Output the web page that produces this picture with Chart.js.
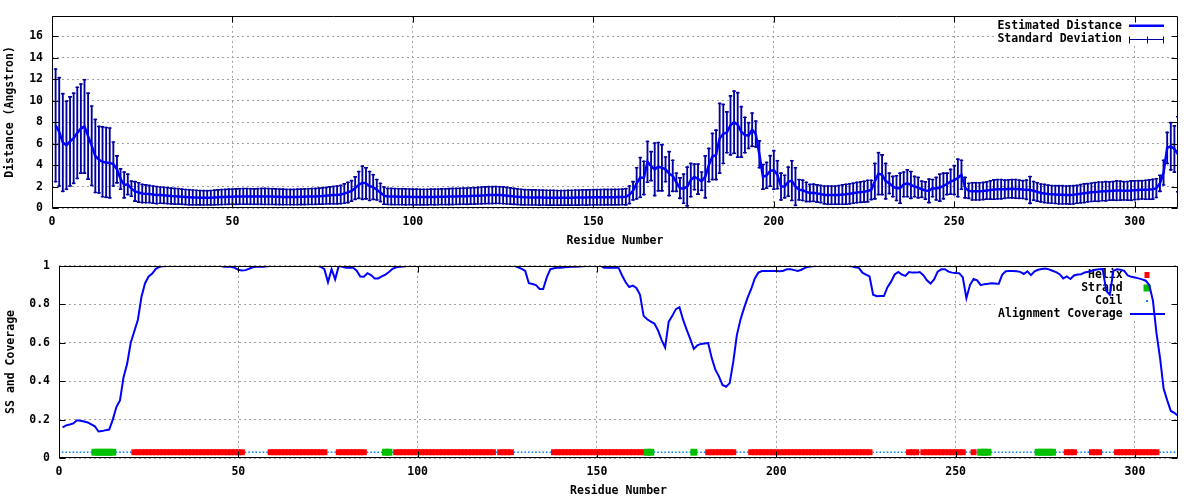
<!DOCTYPE html>
<html><head><meta charset="utf-8">
<script src="https://cdn.jsdelivr.net/npm/chart.js@4.4.1/dist/chart.umd.min.js"></script>
<style>
html,body{margin:0;padding:0;background:#fff;}
#wrap{position:relative;width:1200px;height:500px;background:#fff;}
.c{position:absolute;left:0;width:1200px;height:250px;}
</style></head><body>
<div id="wrap">
<div class="c" style="top:0"><canvas id="top"></canvas></div>
<div class="c" style="top:250px"><canvas id="bot"></canvas></div>
</div>
<script>
// ---- data (residue i+1) ----
const distance = [
7.7,7.1,6.1,5.85,6.2,6.5,7.0,7.4,7.6,6.7,
5.8,4.85,4.5,4.3,4.25,4.2,4.1,3.6,2.7,2.15,
2.2,1.8,1.55,1.45,1.35,1.32,1.3,1.25,1.2,1.2,
1.18,1.15,1.12,1.1,1.08,1.05,1.02,1.0,0.98,0.97,
0.96,0.95,0.95,0.96,0.98,1.0,1.02,1.03,1.05,1.05,
1.06,1.07,1.08,1.08,1.07,1.06,1.07,1.08,1.08,1.07,
1.06,1.05,1.04,1.03,1.02,1.02,1.02,1.03,1.04,1.05,
1.06,1.07,1.08,1.1,1.12,1.15,1.18,1.2,1.22,1.25,
1.35,1.45,1.6,1.85,2.15,2.35,2.3,2.05,1.95,1.7,
1.45,1.15,1.08,1.07,1.06,1.05,1.05,1.04,1.04,1.03,
1.03,1.02,1.02,1.02,1.03,1.03,1.04,1.05,1.05,1.06,
1.07,1.08,1.09,1.1,1.1,1.12,1.13,1.15,1.17,1.18,
1.2,1.2,1.21,1.2,1.18,1.15,1.12,1.08,1.05,1.02,
1.0,0.99,0.98,0.98,0.97,0.97,0.96,0.96,0.96,0.95,
0.95,0.95,0.96,0.96,0.97,0.97,0.98,0.98,0.99,1.0,
1.0,1.0,1.01,1.01,1.01,1.01,1.02,1.03,1.05,1.23,
1.6,2.3,2.85,2.8,4.3,3.9,3.6,3.85,3.75,3.6,
3.2,3.0,2.4,1.85,1.8,2.0,2.6,2.9,2.7,2.5,
2.9,4.0,4.8,4.95,6.5,6.9,7.05,7.7,8.0,7.75,
7.1,6.8,6.75,7.3,6.9,5.0,2.9,3.05,3.45,3.55,
3.1,2.0,2.0,2.45,2.55,2.0,1.7,1.65,1.5,1.4,
1.42,1.35,1.3,1.22,1.2,1.2,1.2,1.22,1.25,1.28,
1.32,1.38,1.44,1.48,1.52,1.58,1.68,2.5,3.2,3.1,
2.5,2.3,2.0,1.85,1.85,2.2,2.3,2.15,2.0,1.9,
1.75,1.63,1.6,1.85,1.8,1.9,2.05,2.25,2.45,2.6,
2.8,3.1,1.9,1.6,1.55,1.55,1.55,1.58,1.63,1.68,
1.72,1.75,1.75,1.75,1.78,1.8,1.78,1.75,1.72,1.7,
1.68,1.6,1.5,1.4,1.35,1.3,1.27,1.25,1.23,1.23,
1.22,1.22,1.23,1.28,1.33,1.38,1.42,1.46,1.5,1.52,
1.55,1.56,1.58,1.6,1.62,1.62,1.6,1.6,1.62,1.65,
1.67,1.69,1.7,1.72,1.75,1.85,2.3,3.3,5.6,5.75,
5.5,5.0];

const stdev = [
5.3,5.1,4.6,4.15,4.2,4.25,4.3,4.2,4.4,4.05,
3.75,3.45,3.15,3.3,3.3,3.3,2.1,1.3,1.0,1.25,
1.0,0.75,0.95,0.95,0.9,0.88,0.85,0.85,0.85,0.8,
0.8,0.8,0.78,0.78,0.77,0.76,0.75,0.75,0.74,0.73,
0.72,0.72,0.71,0.72,0.73,0.74,0.75,0.75,0.76,0.76,
0.77,0.77,0.78,0.78,0.77,0.77,0.78,0.79,0.8,0.79,
0.78,0.78,0.77,0.77,0.76,0.76,0.76,0.77,0.77,0.78,
0.78,0.79,0.79,0.8,0.8,0.82,0.84,0.86,0.88,0.9,
0.95,1.0,1.0,1.1,1.3,1.6,1.5,1.4,1.2,1.0,
0.9,0.85,0.8,0.8,0.8,0.79,0.79,0.79,0.78,0.78,
0.78,0.77,0.77,0.77,0.77,0.78,0.78,0.78,0.79,0.79,
0.8,0.8,0.8,0.8,0.81,0.81,0.82,0.82,0.83,0.83,
0.84,0.84,0.84,0.83,0.83,0.82,0.8,0.79,0.78,0.77,
0.76,0.76,0.75,0.75,0.75,0.74,0.74,0.74,0.74,0.73,
0.73,0.73,0.74,0.74,0.75,0.75,0.75,0.76,0.76,0.76,
0.77,0.77,0.77,0.77,0.77,0.77,0.77,0.77,0.8,0.87,
0.9,1.5,1.9,1.6,1.95,1.4,2.5,2.3,2.2,1.2,
2.1,1.5,0.9,1.0,1.4,1.85,1.6,1.25,1.45,0.9,
2.0,1.6,2.2,2.35,3.3,2.8,1.95,2.8,2.95,3.05,
2.4,1.7,1.25,1.6,1.25,1.3,1.2,1.25,1.47,1.85,
1.35,1.3,1.1,1.4,1.9,1.8,1.0,1.0,0.95,0.85,
0.85,0.85,0.85,0.88,0.9,0.9,0.9,0.92,0.95,0.98,
0.98,0.98,1.0,1.0,1.02,1.05,0.95,1.7,2.0,1.9,
1.7,1.0,1.0,1.2,1.45,1.2,1.3,1.3,1.0,1.0,
0.8,0.85,1.15,0.85,1.1,1.3,1.25,1.05,1.2,1.4,
1.8,1.4,1.0,0.75,0.85,0.85,0.85,0.85,0.85,0.9,
0.95,0.95,0.95,0.9,0.88,0.9,0.92,0.9,0.88,0.95,
1.3,0.92,0.9,0.88,0.9,0.88,0.87,0.88,0.9,0.9,
0.88,0.9,0.9,0.88,0.9,0.92,0.9,0.9,0.92,0.95,
0.92,0.95,0.9,0.92,0.95,0.93,0.9,0.92,0.95,0.93,
0.92,0.9,0.93,0.95,0.97,0.92,0.8,1.2,1.5,2.25,
2.2,3.55];

const coverage = [
0.16,0.17,0.174,0.18,0.196,0.194,0.19,0.185,0.175,0.165,
0.138,0.14,0.145,0.148,0.2,0.265,0.3,0.42,0.49,0.6,
0.66,0.72,0.84,0.91,0.945,0.96,0.985,0.995,0.998,1.0,
1.0,1.0,1.0,1.0,1.0,1.0,1.0,1.0,1.0,1.0,
1.0,1.0,1.0,1.0,1.0,0.995,0.995,0.995,0.99,0.98,
0.976,0.978,0.985,0.993,0.995,0.995,0.996,0.998,1.0,1.0,
1.0,1.0,1.0,1.0,1.0,1.0,1.0,1.0,1.0,1.0,
1.0,1.0,0.995,0.983,0.915,0.983,0.93,1.0,0.995,0.991,
0.991,0.99,0.975,0.945,0.944,0.962,0.952,0.935,0.935,0.945,
0.955,0.968,0.985,0.993,0.995,0.997,0.999,1.0,1.0,1.0,
1.0,1.0,1.0,1.0,1.0,1.0,1.0,1.0,1.0,1.0,
1.0,1.0,1.0,1.0,1.0,1.0,1.0,1.0,1.0,1.0,
1.0,1.0,1.0,1.0,1.0,1.0,1.0,0.993,0.985,0.974,
0.91,0.906,0.9,0.88,0.88,0.94,0.983,0.988,0.99,0.991,
0.993,0.994,0.995,0.996,0.997,0.998,0.999,1.0,1.0,1.0,
1.0,0.991,0.991,0.991,0.991,0.991,0.95,0.915,0.89,0.897,
0.885,0.85,0.74,0.722,0.71,0.7,0.665,0.615,0.575,0.71,
0.74,0.775,0.785,0.72,0.668,0.62,0.568,0.587,0.594,0.596,
0.598,0.52,0.46,0.425,0.38,0.371,0.39,0.5,0.64,0.72,
0.78,0.835,0.88,0.935,0.965,0.973,0.974,0.974,0.974,0.974,
0.972,0.975,0.983,0.982,0.978,0.974,0.98,0.99,0.995,0.998,
1.0,1.0,1.0,1.0,1.0,1.0,1.0,1.0,1.0,1.0,
0.998,0.993,0.99,0.965,0.955,0.945,0.85,0.842,0.843,0.843,
0.889,0.918,0.955,0.968,0.955,0.948,0.968,0.965,0.965,0.968,
0.952,0.925,0.908,0.93,0.97,0.982,0.983,0.97,0.965,0.963,
0.962,0.94,0.832,0.9,0.932,0.925,0.9,0.905,0.907,0.91,
0.908,0.906,0.955,0.972,0.974,0.974,0.972,0.969,0.958,0.972,
0.952,0.972,0.98,0.984,0.986,0.982,0.975,0.968,0.957,0.935,
0.945,0.932,0.95,0.955,0.957,0.966,0.97,0.975,0.98,0.982,
0.983,0.87,0.85,0.975,0.982,0.98,0.974,0.95,0.943,0.94,
0.935,0.93,0.923,0.9,0.82,0.65,0.52,0.36,0.3,0.245,
0.235,0.22];

// secondary structure segments [first, last] residue
const helixSegments = [[21,51],[59,74],[78,85],[94,121],[123,126],[138,163],[181,188],[193,226],[237,239],[241,252],[255,255],[281,283],[288,290],[295,306]];
const strandSegments = [[10,15],[91,92],[164,165],[177,177],[257,259],[273,277]];
const ssLevel = 0.03;

const xTicksStep = 50, yTopStep = 2, yBotStep = 0.2;
const xMax = 312, yTopMax = 17.9, yBotMax = 1;

// ---- derived ----
const residues = distance.map((_, i) => i + 1);
const inSegs = (r, segs) => segs.some(([a, b]) => r >= a && r <= b);
const helixRes = residues.filter(r => inSegs(r, helixSegments));
const strandRes = residues.filter(r => inSegs(r, strandSegments));
const coilRes = residues.filter(r => !inSegs(r, helixSegments) && !inSegs(r, strandSegments));

const FAMILY = "'DejaVu Sans Mono', monospace";
Chart.defaults.font = {family: FAMILY, size: 11.5, weight: 'bold', lineHeight: 1.2};
Chart.defaults.color = '#000';
Chart.defaults.animation = false;

const GRID = '#a0a0a0';
const keepTicks = step => s => { s.ticks = s.ticks.filter(t => Math.abs(t.value / step - Math.round(t.value / step)) < 1e-6); };

function drawSample(ctx, row, k) {
  const y = row.y;
  ctx.save();
  if (row.sample === 'line') {
    ctx.strokeStyle = row.color; ctx.lineWidth = row.width || 2;
    ctx.beginPath(); ctx.moveTo(k.x0, y); ctx.lineTo(k.x1, y); ctx.stroke();
  } else if (row.sample === 'errorbar') {
    ctx.strokeStyle = row.color; ctx.lineWidth = 1;
    const yy = Math.round(y) + 0.5, m = Math.round((k.x0 + k.x1) / 2) + 0.5;
    ctx.beginPath();
    ctx.moveTo(k.x0, yy); ctx.lineTo(k.x1, yy);
    [Math.round(k.x0) + 0.5, m, Math.round(k.x1) - 0.5].forEach(xx => { ctx.moveTo(xx, yy - 3); ctx.lineTo(xx, yy + 4); });
    ctx.stroke();
  } else if (row.sample === 'rect') {
    ctx.fillStyle = row.color;
    ctx.fillRect(row.cx - row.w / 2, y - row.h / 2, row.w, row.h);
  } else if (row.sample === 'dot') {
    ctx.fillStyle = row.color;
    ctx.fillRect(row.cx - 1, y - 1, 2, 2);
  }
  ctx.restore();
}

const gpFrame = {
  id: 'gpFrame',
  beforeDatasetsDraw(chart, args, opts) {
    const k = opts.key; if (!k) return;
    const ctx = chart.ctx;
    ctx.save();
    ctx.fillStyle = '#fff';
    ctx.fillRect(k.box[0], k.box[1], k.box[2] - k.box[0], k.box[3] - k.box[1]);
    ctx.font = "bold 11.5px " + FAMILY;
    ctx.fillStyle = '#000'; ctx.textAlign = 'right'; ctx.textBaseline = 'middle';
    k.rows.forEach(row => { ctx.fillText(row.text, k.textRight, row.y); drawSample(ctx, row, k); });
    ctx.restore();
  },
  afterDraw(chart) {
    const {ctx, chartArea: a, scales: {x, y}} = chart;
    const L = Math.round(a.left) + 0.5, R = Math.round(a.right) - 0.5, T = Math.round(a.top) + 0.5, B = Math.round(a.bottom) - 0.5;
    ctx.save();
    ctx.strokeStyle = '#000'; ctx.lineWidth = 1;
    ctx.beginPath();
    ctx.rect(L, T, R - L, B - T);
    const tl = 6;
    x.ticks.forEach(t => {
      const px = Math.round(x.getPixelForValue(t.value)) + 0.5;
      ctx.moveTo(px, B); ctx.lineTo(px, B - tl);
      ctx.moveTo(px, T); ctx.lineTo(px, T + tl);
    });
    y.ticks.forEach(t => {
      const py = Math.round(y.getPixelForValue(t.value)) + 0.5;
      ctx.moveTo(L, py); ctx.lineTo(L + tl, py);
      ctx.moveTo(R, py); ctx.lineTo(R - tl, py);
    });
    ctx.stroke();
    ctx.restore();
  }
};

function xScale() {
  return {
    type: 'linear', min: 0, max: xMax, bounds: 'data', offset: false,
    grid: {color: GRID, drawTicks: false, offset: false},
    border: {display: false, dash: [2, 3]},
    ticks: {stepSize: xTicksStep, includeBounds: false, padding: 7, maxRotation: 0, autoSkip: false},
    afterBuildTicks: keepTicks(xTicksStep),
    afterFit: s => { s.height = 42; },
    title: {display: true, text: 'Residue Number', padding: {top: 0, bottom: 2.4}}
  };
}

// ---- top chart ----
const errData = residues.map((r, i) => ({x: r, y: [distance[i] - stdev[i], distance[i] + stdev[i]]}));
new Chart(document.getElementById('top'), {
  type: 'line',
  data: {datasets: [
    {label: 'Estimated Distance', data: residues.map((r, i) => ({x: r, y: distance[i]})), borderColor: '#0000ff', borderWidth: 2.5, pointRadius: 0, tension: 0, order: 0},
    {label: 'Standard Deviation', type: 'bar', data: errData, backgroundColor: '#0000a0', barThickness: 1.2, grouped: false, order: 1},
    {label: 'Standard Deviation caps', type: 'bar', data: errData, backgroundColor: 'rgba(0,0,0,0)', borderColor: '#0000a0', borderWidth: {top: 1, bottom: 1, left: 0, right: 0}, borderSkipped: false, barThickness: 4, grouped: false, order: 2}
  ]},
  options: {
    responsive: true, maintainAspectRatio: false, animation: false, events: [],
    layout: {padding: {left: 0, right: 22, top: 14, bottom: 0}},
    plugins: {
      legend: {display: false}, tooltip: {enabled: false},
      gpFrame: {key: {box: [995, 15, 1172, 45], textRight: 1122, x0: 1129, x1: 1164, rows: [
        {y: 25.7, text: 'Estimated Distance', sample: 'line', color: '#0000ff', width: 2.5},
        {y: 39, text: 'Standard Deviation', sample: 'errorbar', color: '#0000a0'}
      ]}}
    },
    scales: {
      x: xScale(),
      y: {
        type: 'linear', min: 0, max: yTopMax, bounds: 'data',
        grid: {color: GRID, drawTicks: false},
        border: {display: false, dash: [2, 3]},
        ticks: {stepSize: yTopStep, includeBounds: false, padding: 9},
        afterBuildTicks: keepTicks(yTopStep),
        afterFit: s => { s.width = 52; },
        title: {display: true, text: 'Distance (Angstron)', padding: {top: 3, bottom: 0}}
      }
    }
  },
  plugins: [gpFrame]
});

// ---- bottom chart ----
new Chart(document.getElementById('bot'), {
  type: 'line',
  data: {datasets: [
    {label: 'Alignment Coverage', data: residues.map((r, i) => ({x: r, y: coverage[i]})), borderColor: '#0000ff', borderWidth: 2, pointRadius: 0, tension: 0, order: 0},
    {label: 'Strand', data: strandRes.map(r => ({x: r, y: ssLevel})), showLine: false, pointStyle: 'rect', pointRadius: 4.9, pointBackgroundColor: '#00c000', pointBorderWidth: 0, order: 1},
    {label: 'Helix', data: helixRes.map(r => ({x: r, y: ssLevel})), showLine: false, pointStyle: 'rect', pointRadius: 4.2, pointBackgroundColor: '#ff0000', pointBorderWidth: 0, order: 2},
    {label: 'Coil', data: coilRes.map(r => ({x: r, y: ssLevel})), showLine: false, pointStyle: 'rect', pointRadius: 1.1, pointBackgroundColor: '#0080ff', pointBorderWidth: 0, order: 3}
  ]},
  options: {
    responsive: true, maintainAspectRatio: false, animation: false, events: [],
    layout: {padding: {left: 0, right: 22, top: 13, bottom: 0}},
    plugins: {
      legend: {display: false}, tooltip: {enabled: false},
      gpFrame: {key: {box: [995, 14, 1172, 68], textRight: 1122.7, x0: 1130, x1: 1165, rows: [
        {y: 25, text: 'Helix', sample: 'rect', color: '#ff0000', cx: 1147, w: 5, h: 6},
        {y: 38, text: 'Strand', sample: 'rect', color: '#00c000', cx: 1147, w: 7, h: 7},
        {y: 51, text: 'Coil', sample: 'dot', color: '#0080ff', cx: 1147},
        {y: 64, text: 'Alignment Coverage', sample: 'line', color: '#0000ff', width: 2}
      ]}}
    },
    scales: {
      x: xScale(),
      y: {
        type: 'linear', min: 0, max: yBotMax, bounds: 'data',
        grid: {color: GRID, drawTicks: false},
        border: {display: false, dash: [2, 3]},
        ticks: {stepSize: yBotStep, includeBounds: false, padding: 9, callback: v => String(+(+v).toFixed(1))},
        afterBuildTicks: keepTicks(yBotStep),
        afterFit: s => { s.width = 59; },
        title: {display: true, text: 'SS and Coverage', padding: {top: 4, bottom: 0}}
      }
    }
  },
  plugins: [gpFrame]
});
</script>
</body></html>
